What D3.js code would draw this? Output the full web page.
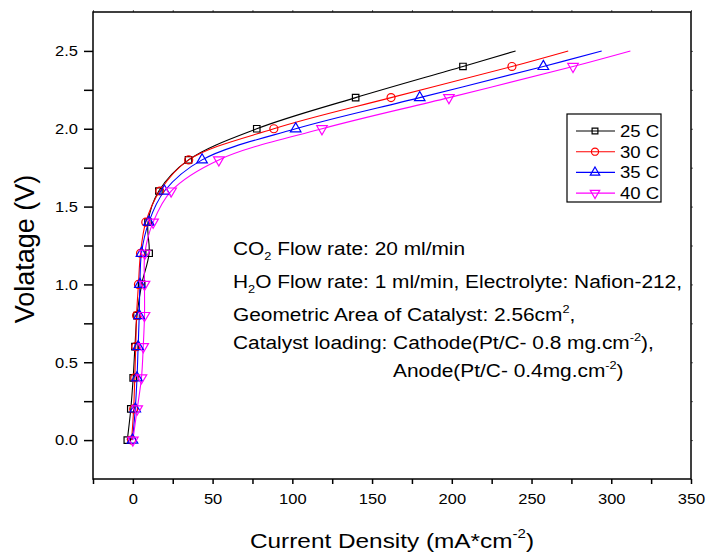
<!DOCTYPE html>
<meta charset="utf-8">
<script src="https://d3js.org/d3.v7.min.js"></script>
<style>
  body { margin: 0; background: #fff; }
  text { font-family: "Liberation Sans", Arial, sans-serif; }
</style>
<div id="chart"></div>
<script>
// voltage steps where the markers sit, plus the end of the fitted lines
const voltages = [0, 0.2, 0.4, 0.6, 0.8, 1.0, 1.2, 1.4, 1.6, 1.8, 2.0, 2.2, 2.4];
const lineEndVoltage = 2.5;

// current density (mA/cm2) for each temperature
const current25 = [-3.5, -1.3, 0.2, 1.3, 2.6, 5.5, 10.2, 9.5, 16.3, 34.9, 77.7, 139.7, 207];
const current30 = [-0.8, 0.5, 1.2, 1.8, 2.3, 3.5, 4.8, 8.1, 16.9, 35, 88.4, 161.9, 237.7];
const current35 = [-0.2, 1.5, 2.6, 3.3, 4.0, 4.4, 5.4, 10.0, 19.8, 43.4, 102.1, 179.9, 257.4];
const current40 = [0.0, 2.7, 5.4, 6.5, 7.3, 7.3, 7.5, 12.7, 24.0, 53.9, 118.6, 198.2, 276];
const lineEndCurrent = [240, 273, 294, 312];

const seriesNames = ["25 C", "30 C", "35 C", "40 C"];
const seriesColors = ["#000000", "#ff0000", "#0000ff", "#ff00ff"];

const xTickValues = [0, 50, 100, 150, 200, 250, 300, 350];
const yTickValues = [0.0, 0.5, 1.0, 1.5, 2.0, 2.5];

const W = 709, H = 554;
const plot = {left: 93, right: 691, top: 12, bottom: 479};
const stretch = 1.16; // text in the picture is a bit wider than normal

const svg = d3.select("#chart").append("svg")
    .attr("width", W)
    .attr("height", H);

const x = d3.scaleLinear().domain([-25, 350]).range([plot.left, plot.right]);
const y = d3.scaleLinear().domain([-0.25, 2.75]).range([plot.bottom, plot.top]);

// bottom axis, ticks every 25, labels every 50
const xAxis = svg.append("g")
    .attr("transform", `translate(0,${plot.bottom})`)
    .call(d3.axisBottom(x)
        .tickValues(d3.range(-25, 351, 25))
        .tickSize(5)
        .tickFormat(d => xTickValues.includes(d) ? d : ""));
xAxis.select(".domain").remove();
xAxis.selectAll("text")
    .attr("font-size", 15)
    .attr("y", 0).attr("dy", 0)
    .attr("transform", "translate(0,25) scale(1.1,1)")
    .attr("fill", "#000");
xAxis.selectAll("line").attr("stroke-width", 1.5);

// left axis
const yAxis = svg.append("g")
    .attr("transform", `translate(${plot.left},0)`)
    .call(d3.axisLeft(y)
        .tickValues(d3.range(0, 2.51, 0.25))
        .tickSize(9)
        .tickFormat(d => yTickValues.some(v => Math.abs(v - d) < 1e-6) ? d3.format(".1f")(d) : ""));
yAxis.select(".domain").remove();
yAxis.selectAll("text")
    .attr("font-size", 15)
    .attr("x", 0)
    .attr("transform", "translate(-15,0) scale(1.1,1)")
    .attr("fill", "#000");
yAxis.selectAll("line").attr("stroke-width", 1.5);

// tiny ticks on top and right edges
svg.append("g")
    .attr("transform", `translate(0,${plot.top})`)
    .call(d3.axisTop(x).tickValues(d3.range(-25, 351, 25)).tickSize(2).tickFormat(""))
    .call(g => g.select(".domain").remove())
    .selectAll("line").attr("stroke", "#666");
svg.append("g")
    .attr("transform", `translate(${plot.right},0)`)
    .call(d3.axisRight(y).tickValues(d3.range(0, 2.51, 0.25)).tickSize(2).tickFormat(""))
    .call(g => g.select(".domain").remove())
    .selectAll("line").attr("stroke", "#666");

// frame
svg.append("rect")
    .attr("x", plot.left).attr("y", plot.top)
    .attr("width", plot.right - plot.left)
    .attr("height", plot.bottom - plot.top)
    .attr("fill", "none")
    .attr("stroke", "#000")
    .attr("stroke-width", 1.5);

// symbols for each series
const symbolFor = [
    {type: d3.symbolSquare, size: 42, rotate: 0},
    {type: d3.symbolCircle, size: 50, rotate: 0},
    {type: d3.symbolTriangle, size: 48, rotate: 0},
    {type: d3.symbolTriangle, size: 48, rotate: 180}
];

const allCurrents = [current25, current30, current35, current40];
const series = allCurrents.map((cur, i) => ({
    name: seriesNames[i],
    color: seriesColors[i],
    sym: symbolFor[i],
    points: voltages.map((v, j) => ({i: cur[j], v: v})),
    linePoints: voltages.map((v, j) => ({i: cur[j], v: v}))
        .concat([{i: lineEndCurrent[i], v: lineEndVoltage}])
}));

const line = d3.line()
    .x(d => x(d.i))
    .y(d => y(d.v))
    .curve(d3.curveCatmullRom.alpha(0.5));

const plotG = svg.append("g");

series.forEach(s => {
    plotG.append("path")
        .datum(s.linePoints)
        .attr("d", line)
        .attr("fill", "none")
        .attr("stroke", s.color)
        .attr("stroke-width", 1.1);
});

series.forEach(s => {
    const sym = d3.symbol().type(s.sym.type).size(s.sym.size);
    plotG.selectAll(null)
        .data(s.points)
        .join("path")
        .attr("d", sym)
        .attr("transform", d => `translate(${x(d.i)},${y(d.v)}) rotate(${s.sym.rotate})`)
        .attr("fill", "none")
        .attr("stroke", s.color)
        .attr("stroke-width", 1.2);
});

// legend
const legend = svg.append("g").attr("transform", "translate(567,114)");
legend.append("rect")
    .attr("width", 94).attr("height", 88)
    .attr("fill", "#fff")
    .attr("stroke", "#000")
    .attr("stroke-width", 1.2);
series.forEach((s, k) => {
    const row = legend.append("g").attr("transform", `translate(0,${17 + k * 20.7})`);
    row.append("line")
        .attr("x1", 9).attr("x2", 48)
        .attr("stroke", s.color).attr("stroke-width", 1.1);
    row.append("path")
        .attr("d", d3.symbol().type(s.sym.type).size(s.sym.size * 0.8))
        .attr("transform", `translate(28,0) rotate(${s.sym.rotate})`)
        .attr("fill", "none")
        .attr("stroke", s.color)
        .attr("stroke-width", 1.2);
    row.append("text")
        .attr("transform", `translate(53,6) scale(${stretch},1)`)
        .attr("font-size", 16)
        .text(s.name);
});

// annotation text
const note = svg.append("g").attr("font-size", 18);
function noteLine(xp, yp, parts) {
    const t = note.append("text")
        .attr("transform", `translate(${xp},${yp}) scale(${stretch},1)`);
    parts.forEach(p => {
        const ts = t.append("tspan").text(p.text);
        if (p.sub) ts.attr("font-size", 11).attr("dy", 5);
        if (p.sup) ts.attr("font-size", 11).attr("dy", -8);
        if (p.back) ts.attr("dy", p.back);
    });
}
noteLine(233, 255, [{text: "CO"}, {text: "2", sub: true}, {text: " Flow rate: 20 ml/min", back: -5}]);
noteLine(233, 288, [{text: "H"}, {text: "2", sub: true}, {text: "O Flow rate: 1 ml/min, Electrolyte: Nafion-212,", back: -5}]);
noteLine(233, 321, [{text: "Geometric Area of Catalyst: 2.56cm"}, {text: "2", sup: true}, {text: ",", back: 8}]);
noteLine(233, 349, [{text: "Catalyst loading: Cathode(Pt/C- 0.8 mg.cm"}, {text: "-2", sup: true}, {text: "),", back: 8}]);
noteLine(393, 377, [{text: "Anode(Pt/C- 0.4mg.cm"}, {text: "-2", sup: true}, {text: ")", back: 8}]);

// axis titles
const xTitle = svg.append("text")
    .attr("transform", `translate(${(plot.left + plot.right) / 2},548) scale(${stretch},1)`)
    .attr("text-anchor", "middle")
    .attr("font-size", 21);
xTitle.append("tspan").text("Current Density (mA*cm");
xTitle.append("tspan").text("-2").attr("font-size", 13).attr("dy", -10);
xTitle.append("tspan").text(")").attr("dy", 10);

svg.append("text")
    .attr("transform", `translate(34,249) rotate(-90)`)
    .attr("text-anchor", "middle")
    .attr("font-size", 27)
    .text("Volatage (V)");
</script>
